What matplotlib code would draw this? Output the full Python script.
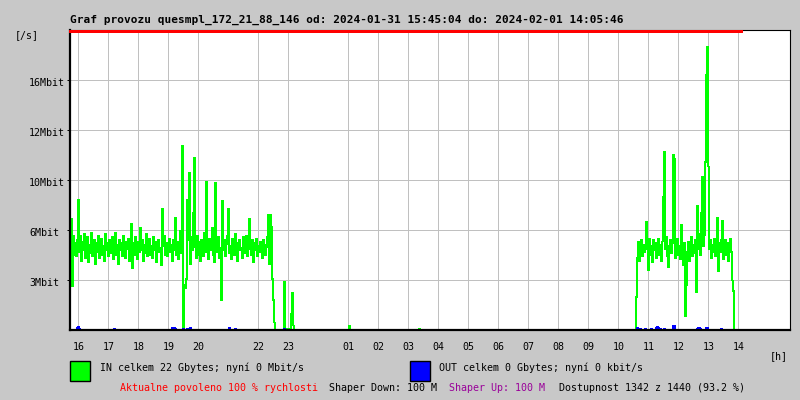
import matplotlib
matplotlib.use("Agg")
import matplotlib.pyplot as plt
from matplotlib.patches import Rectangle
from matplotlib.transforms import blended_transform_factory, offset_copy
import pandas as pd

# --- data ------------------------------------------------------------------
title = "Graf provozu quesmpl_172_21_88_146 od: 2024-01-31 15:45:04 do: 2024-02-01 14:05:46"
day0 = pd.Timestamp("2024-01-31 00:00")
t_end = pd.Timestamp("2024-02-01 14:05:46")
grid_start = "2024-01-31 15:45"
grid_end = "2024-02-01 14:05"

# IN traffic, Mbit/s, one sample every 2 minutes
in_block1_start = "2024-01-31 15:45"
in_block1 = [
    7.4, 2.9, 6.3, 5.0, 5.8, 4.9, 6.0, 8.7, 5.2, 6.3,
    4.6, 5.9, 5.3, 6.4, 4.8, 5.6, 6.2, 4.5, 5.7, 5.1,
    6.5, 4.9, 5.4, 6.0, 4.4, 5.8, 5.2, 6.3, 4.8, 5.5,
    6.1, 5.0, 5.6, 4.6, 6.4, 5.3, 5.8, 4.9, 6.0, 5.4,
    5.1, 6.2, 4.7, 5.5, 6.5, 5.0, 5.7, 4.4, 6.0, 5.3,
    5.8, 4.9, 6.3, 5.2, 4.8, 5.9, 5.4, 6.1, 4.6, 5.6,
    7.1, 4.1, 5.8, 5.0, 6.2, 5.5, 4.7, 5.9, 5.2, 6.8,
    5.3, 6.0, 4.6, 5.7, 5.1, 6.4, 4.9, 5.5, 6.1, 5.0,
    5.6, 4.8, 6.2, 5.3, 5.9, 4.5, 5.7, 6.0, 5.2, 5.5,
    4.3, 8.1, 5.6, 6.3, 5.0, 5.8, 4.9, 5.4, 6.1, 5.2,
    5.7, 4.6, 6.0, 5.3, 7.5, 5.0, 5.9, 4.7, 5.5, 6.6,
    5.1, 12.3, 0.2, 3.0, 2.8, 3.4, 8.7, 6.0, 10.5, 4.4,
    6.2, 5.3, 7.8, 11.5, 5.5, 4.8, 6.3, 5.0, 5.9, 4.6,
    6.0, 5.4, 4.9, 6.5, 5.2, 9.9, 5.8, 4.7, 6.1, 5.3,
    5.6, 6.8, 5.0, 4.5, 9.8, 5.9, 5.2, 6.2, 4.8, 5.5,
    2.0, 8.6, 5.3, 6.0, 4.9, 5.7, 6.3, 8.1, 5.1, 5.6,
    4.7, 6.1, 5.4, 5.0, 6.4, 5.2, 4.6, 5.8, 6.0, 5.3,
    5.5, 4.8, 6.2, 5.1, 5.7, 6.3, 4.9, 5.4, 7.4, 5.6,
    5.0, 6.0, 4.5, 5.8, 5.3, 6.1, 4.9, 5.6, 5.2, 5.9,
    5.4, 4.8, 6.0, 5.7, 5.0, 5.5, 6.2, 7.7, 4.4, 7.7,
    6.9, 3.4, 2.0, 0.5, 0.0, 0.0, 0.0, 0.0, 0.0, 0.0,
    0.0, 0.0, 0.0, 3.2, 0.1, 0.0, 0.0, 0.1, 0.0, 0.0,
    1.1, 2.5, 0.3, 0.0, 0.0, 0.0, 0.0, 0.0, 0.0, 0.0,
]
in_block2_start = "2024-02-01 10:33"
in_block2 = [
    0.0, 2.2, 4.8, 5.9, 4.6, 5.5, 6.0, 4.9, 5.7, 5.2, 5.4,
    7.2, 5.4, 4.0, 6.1, 5.0, 5.6, 4.5, 6.0, 5.3, 5.8,
    4.8, 5.5, 6.1, 5.0, 5.7, 4.6, 5.9, 8.9, 11.9, 5.4,
    6.2, 4.9, 4.2, 5.6, 6.0, 5.1, 5.8, 11.7, 11.4, 4.8,
    5.5, 6.1, 5.0, 5.6, 4.7, 7.0, 5.3, 4.3, 5.8, 0.9,
    3.0, 5.2, 5.9, 4.6, 5.5, 6.2, 4.9, 5.7, 5.1, 6.0,
    2.5, 8.3, 5.4, 6.4, 5.0, 7.8, 10.2, 5.6, 6.3, 11.2,
    17.0, 18.9, 10.9, 5.4, 6.0, 4.8, 5.7, 5.2, 6.1, 4.9,
    5.6, 7.5, 3.9, 5.8, 5.2, 6.0, 7.3, 4.7, 5.5, 6.0,
    5.0, 5.8, 4.6, 5.6, 6.1, 5.2, 3.3, 2.6, 0.0,
]
in_blip_times = ["2024-02-01 01:01", "2024-02-01 03:21"]
in_blip_vals = [0.25, 0.1]

# OUT traffic, Mbit/s (only the small bumps, rest is zero)
out_times = [
    "2024-01-31 15:57", "2024-01-31 15:59", "2024-01-31 16:01", "2024-01-31 17:11",
    "2024-01-31 19:07", "2024-01-31 19:09", "2024-01-31 19:11", "2024-01-31 19:13",
    "2024-01-31 19:29", "2024-01-31 19:37", "2024-01-31 19:43", "2024-01-31 21:01",
    "2024-01-31 21:13", "2024-01-31 22:51",
    "2024-02-01 10:37", "2024-02-01 10:43", "2024-02-01 10:53", "2024-02-01 11:05",
    "2024-02-01 11:15", "2024-02-01 11:17", "2024-02-01 11:19", "2024-02-01 11:23",
    "2024-02-01 11:31", "2024-02-01 11:49", "2024-02-01 11:51", "2024-02-01 12:37",
    "2024-02-01 12:39", "2024-02-01 12:41", "2024-02-01 12:43", "2024-02-01 12:55",
    "2024-02-01 12:57", "2024-02-01 13:25",
]
out_vals = [
    0.15, 0.2, 0.1, 0.1,
    0.15, 0.15, 0.15, 0.1,
    0.1, 0.1, 0.15, 0.15,
    0.1, 0.1,
    0.15, 0.1, 0.1, 0.1,
    0.15, 0.2, 0.15, 0.1,
    0.1, 0.3, 0.3, 0.1,
    0.15, 0.15, 0.1, 0.15,
    0.15, 0.1,
]

# hours since 2024-01-31 00:00 (21 and 00 are missing in the original)
hour_ticks = [16, 17, 18, 19, 20, 22, 23, 25, 26, 27, 28, 29, 30, 31, 32, 33, 34, 35, 36, 37, 38]
hour_labels = ["16", "17", "18", "19", "20", "22", "23", "01", "02", "03", "04", "05",
               "06", "07", "08", "09", "10", "11", "12", "13", "14"]
y_ticks = [10 / 3, 20 / 3, 10, 40 / 3, 50 / 3]
y_labels = ["3Mbit", "6Mbit", "10Mbit", "12Mbit", "16Mbit"]
y_top = 20

legend_in = "IN celkem 22 Gbytes; nyní 0 Mbit/s"
legend_out = "OUT celkem 0 Gbytes; nyní 0 kbit/s"
status = [
    ("Aktualne povoleno 100 % rychlosti", "#ff0000", 120),
    ("Shaper Down: 100 M", "#000000", 329),
    ("Shaper Up: 100 M", "#990099", 449),
    ("Dostupnost 1342 z 1440 (93.2 %)", "#000000", 559),
]

# --- build series ------------------------------------------------------------
grid = pd.date_range(grid_start, grid_end, freq="2min")
s_in = pd.Series(0.0, index=grid)
s_out = pd.Series(0.0, index=grid)
for start, vals in [(in_block1_start, in_block1), (in_block2_start, in_block2)]:
    idx = pd.date_range(start, periods=len(vals), freq="2min")
    s_in.loc[idx] = vals
s_in.loc[pd.to_datetime(in_blip_times)] = in_blip_vals
s_out.loc[pd.to_datetime(out_times)] = out_vals

hours = (grid - day0) / pd.Timedelta(hours=1)
h_end = (t_end - day0) / pd.Timedelta(hours=1)

# --- plot ----------------------------------------------------------------------
W, H = 800, 400
BG = "#c8c8c8"
FONT = "DejaVu Sans Mono"
FS = 7.2

fig = plt.figure(figsize=(W / 100, H / 100), dpi=100, facecolor=BG)
ax = fig.add_axes([70 / W, 70 / H, 720 / W, 300 / H])
ax.set_facecolor("white")

ax.set_xlim(15.723, 39.723)
ax.set_ylim(0, y_top)

ax.set_xticks(hour_ticks, hour_labels)
ax.set_yticks(y_ticks, [])
ax.tick_params(axis="x", length=0, pad=8.5, labelsize=FS)
ax.tick_params(axis="y", length=2, width=0.72)
for lbl in ax.get_xticklabels():
    lbl.set_fontfamily(FONT)
ax.grid(True, color="#c0c0c0", linewidth=0.6, antialiased=False)
ax.set_axisbelow(True)

ax.plot(hours, s_in.values, drawstyle="steps-post", color="#00ff00", lw=0.6, antialiased=False)
ax.plot(hours, s_out.values, drawstyle="steps-post", color="#0000ff", lw=0.6, antialiased=False)

# red limit line along the top over the measured period, just under the frame
red_trans = offset_copy(ax.transData, fig=fig, y=-0.9, units="points")
ax.plot([15.723, h_end], [y_top, y_top], color="#ff0000", lw=1.0, clip_on=False, zorder=5,
        antialiased=False, transform=red_trans)

for side in ["left", "bottom"]:
    ax.spines[side].set_linewidth(1.6)
for side in ["top", "right"]:
    ax.spines[side].set_linewidth(0.8)

# y labels, left aligned like the original
ytrans = offset_copy(blended_transform_factory(fig.transFigure, ax.transData),
                     fig=fig, y=-4.3, units="points")
for v, lab in zip(y_ticks, y_labels):
    fig.text(29 / W, v, lab, transform=ytrans, ha="left", va="baseline",
             fontsize=FS, family=FONT)

fig.text(70 / W, 1 - 22.5 / H, title, ha="left", va="baseline", fontsize=8,
         fontweight="bold", family=FONT)
fig.text(15 / W, 1 - 38.5 / H, "[/s]", ha="left", va="baseline", fontsize=FS, family=FONT)
fig.text(770 / W, 1 - 359.5 / H, "[h]", ha="left", va="baseline", fontsize=FS, family=FONT)

# legend
fig.patches.append(Rectangle((70 / W, 1 - 381 / H), 20 / W, 20 / H, transform=fig.transFigure,
                             facecolor="#00ff00", edgecolor="black", lw=1))
fig.patches.append(Rectangle((410 / W, 1 - 381 / H), 20 / W, 20 / H, transform=fig.transFigure,
                             facecolor="#0000ff", edgecolor="black", lw=1))
fig.text(100 / W, 1 - 371 / H, legend_in, ha="left", va="baseline", fontsize=FS, family=FONT)
fig.text(439 / W, 1 - 371 / H, legend_out, ha="left", va="baseline", fontsize=FS, family=FONT)

for txt, col, xpix in status:
    fig.text(xpix / W, 1 - 391 / H, txt, ha="left", va="baseline", fontsize=FS,
             family=FONT, color=col)

fig.savefig("out.png", dpi=100, facecolor=BG)
